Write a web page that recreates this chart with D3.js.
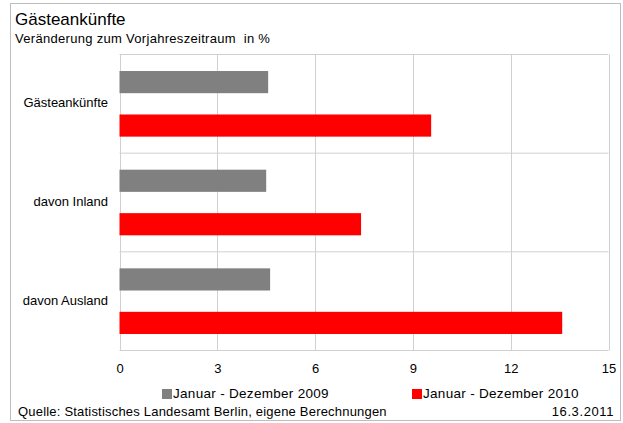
<!DOCTYPE html>
<html>
<head>
<meta charset="utf-8">
<script src="https://cdn.jsdelivr.net/npm/d3@7"></script>
<style>
  body { margin: 0; background: #fff; }
  text { font-family: "Liberation Sans", Arial, sans-serif; fill: #000; white-space: pre; }
</style>
</head>
<body>
<div id="chart"></div>
<script>
const categories = ["Gästeankünfte", "davon Inland", "davon Ausland"];
const series = ["Januar - Dezember 2009", "Januar - Dezember 2010"];
const values2009 = [4.56, 4.5, 4.62];
const values2010 = [9.56, 7.41, 13.58];
const xTicks = [0, 3, 6, 9, 12, 15];

const W = 623, H = 423;
const plot = {left: 119.5, right: 608.5, top: 54.5, bottom: 350.5};

const svg = d3.select("#chart").append("svg")
    .attr("width", W)
    .attr("height", H);

// outer frame
svg.append("rect")
    .attr("x", 10.5).attr("y", 3.5)
    .attr("width", 610).attr("height", 417)
    .attr("fill", "none")
    .attr("stroke", "#bdbdbd");

// titles
svg.append("text")
    .attr("x", 15).attr("y", 25)
    .attr("font-size", 17)
    .text("Gästeankünfte");
svg.append("text")
    .attr("x", 15).attr("y", 43)
    .attr("font-size", 13)
    .attr("letter-spacing", 0.3)
    .text("Veränderung zum Vorjahreszeitraum  in %");

// scales
const x = d3.scaleLinear().domain([0, 15]).range([plot.left, plot.right]);
const y = d3.scaleBand().domain(categories).range([plot.top, plot.bottom]);
const yInner = d3.scaleBand().domain(series).range([0, y.bandwidth()])
    .paddingInner(0.49).paddingOuter(0.38);
const color = d3.scaleOrdinal().domain(series).range(["#808080", "#ff0000"]);

// grid
const grid = svg.append("g").attr("stroke", "#d0d0d0").attr("stroke-width", 1);
grid.selectAll("line.v").data(xTicks).enter().append("line")
    .attr("x1", d => Math.round(x(d)) + 0.5).attr("x2", d => Math.round(x(d)) + 0.5)
    .attr("y1", plot.top).attr("y2", plot.bottom);
grid.selectAll("line.h").data(categories.concat(["end"])).enter().append("line")
    .attr("x1", plot.left).attr("x2", plot.right)
    .attr("y1", (d, i) => i < categories.length ? y(d) : plot.bottom)
    .attr("y2", (d, i) => i < categories.length ? y(d) : plot.bottom);

// bars
const rows = categories.map((c, i) => ({cat: c, vals: [
    {key: series[0], v: values2009[i]},
    {key: series[1], v: values2010[i]}
]}));

svg.append("g").selectAll("g").data(rows).enter().append("g")
    .attr("transform", d => `translate(0,${y(d.cat)})`)
  .selectAll("rect").data(d => d.vals).enter().append("rect")
    .attr("x", x(0))
    .attr("y", d => yInner(d.key))
    .attr("width", d => x(d.v) - x(0))
    .attr("height", yInner.bandwidth())
    .attr("fill", d => color(d.key));

// category labels
svg.append("g").selectAll("text").data(categories).enter().append("text")
    .attr("x", 108)
    .attr("y", d => y(d) + y.bandwidth() / 2 - 1)
    .attr("dy", "0.35em")
    .attr("text-anchor", "end")
    .attr("font-size", 13)
    .text(d => d);

// x axis labels
const xAxis = svg.append("g")
    .attr("transform", `translate(0,${plot.bottom})`)
    .call(d3.axisBottom(x).tickValues(xTicks).tickSize(0).tickPadding(13));
xAxis.select(".domain").remove();
xAxis.selectAll("text")
    .attr("font-size", 13)
    .attr("font-family", "Liberation Sans, Arial, sans-serif")
    .attr("fill", "#000");

// legend
const legendX = [162, 412];
const legend = svg.append("g").selectAll("g").data(series).enter().append("g")
    .attr("transform", (d, i) => `translate(${legendX[i]},389)`);
legend.append("rect")
    .attr("width", 10).attr("height", 10)
    .attr("fill", d => color(d));
legend.append("text")
    .attr("x", 11).attr("y", 9)
    .attr("font-size", 13.5)
    .attr("letter-spacing", 0.3)
    .text(d => d);

// footer
svg.append("text")
    .attr("x", 18).attr("y", 416)
    .attr("font-size", 13)
    .attr("letter-spacing", 0.2)
    .text("Quelle: Statistisches Landesamt Berlin, eigene Berechnungen");
svg.append("text")
    .attr("x", 614).attr("y", 416)
    .attr("text-anchor", "end")
    .attr("font-size", 13)
    .attr("letter-spacing", 0.6)
    .text("16.3.2011");
</script>
</body>
</html>
